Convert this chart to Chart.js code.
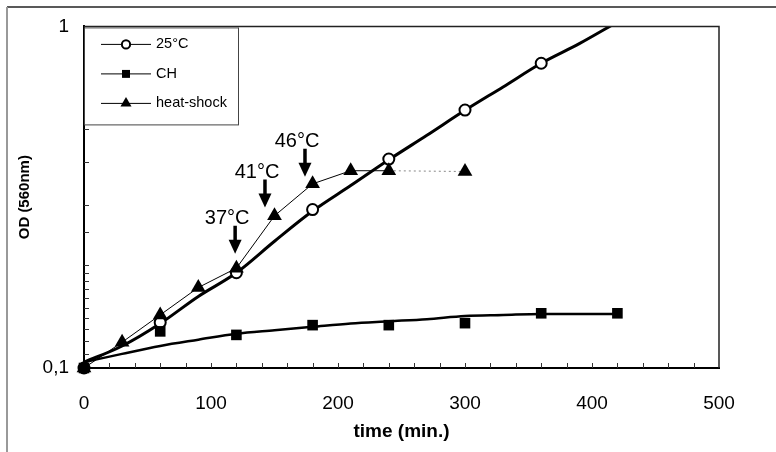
<!DOCTYPE html>
<html>
<head>
<meta charset="utf-8">
<script src="https://cdn.jsdelivr.net/npm/chart.js@4.4.1/dist/chart.umd.min.js"></script>
<style>
  html, body { margin: 0; background: #fff; }
  #wrap { width: 776px; height: 452px; }
</style>
</head>
<body>
<div id="wrap"><canvas id="chartOD" width="776" height="452"></canvas></div>
<script>
const FONT = '"Liberation Sans", Arial, sans-serif';
Chart.defaults.font.family = FONT;
Chart.defaults.color = '#111';

// measured points
const T_25  = [0, 60, 120, 180, 240, 300, 360];
const OD_25 = [0.1, 0.136, 0.19, 0.291, 0.409, 0.569, 0.78];
const T_CH  = [0, 60, 120, 180, 240, 300, 360, 420];
const OD_CH = [0.1, 0.128, 0.125, 0.1335, 0.1335, 0.1353, 0.1446, 0.1446];
const T_HS  = [0, 30, 60, 90, 120, 150, 180, 210, 240, 300];
const OD_HS = [0.1, 0.119, 0.143, 0.172, 0.196, 0.279, 0.346, 0.378, 0.378, 0.376];

// the thick smoothed curves
const T_FIT  = [0, 30, 60, 90, 120, 150, 180, 210, 240, 270, 300, 330, 360, 390, 420];
const FIT_25 = [0.104, 0.116, 0.135, 0.162, 0.19, 0.235, 0.288, 0.342, 0.407, 0.48, 0.568, 0.665, 0.78, 0.89, 1.03];
const FIT_CH = [0.104, 0.110, 0.116, 0.121, 0.126, 0.129, 0.132, 0.135, 0.137, 0.139, 0.142, 0.143, 0.144, 0.144, 0.144];

// temperature shift arrows
const ARROW_TEXT = ['37°C', '41°C', '46°C'];
const ARROW_T    = [119, 142.5, 174];
const ARROW_OD   = [0.216, 0.295, 0.363];

const X_LABELS = [0, 100, 200, 300, 400, 500];

const pts = (xs, ys) => xs.map((x, i) => ({ x, y: ys[i] }));

const markers = [
    { label: '25°C', style: 'circle', r: 5.5, fill: '#fff' },
    { label: 'CH', style: 'rect', r: 7.5, fill: '#000' },
    { label: 'heat-shock', style: 'triangle', r: 8.5, fill: '#000' },
];

function drawMark(ctx, m, x, y, scale) {
    const r = m.r * scale;
    ctx.save();
    ctx.fillStyle = m.fill;
    ctx.strokeStyle = '#000';
    ctx.lineWidth = 2;
    ctx.beginPath();
    if (m.style === 'circle') {
        ctx.arc(x, y, r, 0, Math.PI * 2);
        ctx.fill(); ctx.stroke();
    } else if (m.style === 'rect') {
        const s = r * Math.SQRT1_2;
        ctx.rect(x - s, y - s, 2 * s, 2 * s);
        ctx.fill();
    } else {
        ctx.moveTo(x, y - r);
        ctx.lineTo(x + r * 0.866, y + r * 0.5);
        ctx.lineTo(x - r * 0.866, y + r * 0.5);
        ctx.closePath();
        ctx.fill();
    }
    ctx.restore();
}

const decor = {
    id: 'decor',
    beforeDraw(chart) {
        const { ctx, width, height } = chart;
        ctx.save();
        ctx.fillStyle = '#fff';
        ctx.fillRect(0, 0, width, height);
        // outer frame (top + left only)
        ctx.strokeStyle = '#222';
        ctx.lineWidth = 1.5;
        ctx.beginPath(); ctx.moveTo(7, 7); ctx.lineTo(width, 7); ctx.stroke();
        ctx.strokeStyle = '#999';
        ctx.lineWidth = 2;
        ctx.beginPath(); ctx.moveTo(7, 7); ctx.lineTo(7, height); ctx.stroke();
        ctx.restore();
    },
    afterDraw(chart) {
        const { ctx, chartArea: a, scales: { x, y } } = chart;
        ctx.save();
        // plot frame top/right
        ctx.strokeStyle = '#222';
        ctx.lineWidth = 1.5;
        ctx.beginPath();
        ctx.moveTo(a.left, a.top); ctx.lineTo(a.right, a.top); ctx.lineTo(a.right, a.bottom);
        ctx.stroke();

        // inward tick marks
        ctx.strokeStyle = '#333';
        ctx.lineWidth = 1;
        x.ticks.forEach(t => {
            if (t.value <= 0 || t.value >= 500) return;
            const px = Math.round(x.getPixelForValue(t.value)) + 0.5;
            ctx.beginPath(); ctx.moveTo(px, a.bottom); ctx.lineTo(px, a.bottom - 5); ctx.stroke();
        });
        y.ticks.forEach(t => {
            if (t.value <= 0.1 || t.value >= 1) return;
            const py = Math.round(y.getPixelForValue(t.value)) + 0.5;
            ctx.beginPath(); ctx.moveTo(a.left, py); ctx.lineTo(a.left + 5, py); ctx.stroke();
        });

        // legend box
        const lx = a.left, ly = a.top + 1, lw = 154, lh = 97;
        ctx.fillStyle = '#fff';
        ctx.fillRect(lx + 1, ly, lw - 1, lh);
        ctx.strokeStyle = '#444';
        ctx.lineWidth = 1;
        ctx.strokeRect(lx + 0.5, ly + 0.5, lw, lh);
        ctx.font = '14.5px ' + FONT;
        ctx.textBaseline = 'middle';
        ctx.fillStyle = '#000';
        markers.forEach((m, i) => {
            const ry = ly + 17 + i * 29.5;
            ctx.strokeStyle = '#000';
            ctx.lineWidth = 1;
            ctx.beginPath(); ctx.moveTo(lx + 17, ry); ctx.lineTo(lx + 67, ry); ctx.stroke();
            drawMark(ctx, m, lx + 42, ry, m.style === 'circle' ? 0.75 : 0.75);
            ctx.fillStyle = '#000';
            ctx.fillText(m.label, lx + 72, ry);
        });

        // arrows + temperature labels
        ctx.font = '20px ' + FONT;
        ctx.textAlign = 'center';
        ctx.textBaseline = 'alphabetic';
        ARROW_TEXT.forEach((txt, i) => {
            const px = x.getPixelForValue(ARROW_T[i]);
            const tip = y.getPixelForValue(ARROW_OD[i]);
            const top = tip - 28;
            ctx.strokeStyle = '#000';
            ctx.lineWidth = 3.5;
            ctx.beginPath(); ctx.moveTo(px, top); ctx.lineTo(px, tip - 10); ctx.stroke();
            ctx.fillStyle = '#000';
            ctx.beginPath();
            ctx.moveTo(px - 6.5, tip - 14); ctx.lineTo(px + 6.5, tip - 14); ctx.lineTo(px, tip);
            ctx.closePath(); ctx.fill();
            ctx.fillText(txt, px - 8, top - 2);
        });
        ctx.restore();
    }
};

new Chart(document.getElementById('chartOD'), {
    type: 'scatter',
    data: {
        datasets: [
            {
                label: '25°C', data: pts(T_25, OD_25), order: 2,
                pointStyle: 'circle', pointRadius: 5.5, pointBorderWidth: 2,
                pointBackgroundColor: '#fff', pointBorderColor: '#000', clip: false,
            },
            {
                label: 'CH', data: pts(T_CH, OD_CH), order: 1,
                pointStyle: 'rect', pointRadius: 7.5, pointBorderWidth: 0,
                pointBackgroundColor: '#000', pointBorderColor: '#000', clip: false,
            },
            {
                label: 'heat-shock', data: pts(T_HS, OD_HS), order: 0,
                showLine: true, borderColor: '#000', borderWidth: 1,
                pointStyle: 'triangle', pointRadius: 8.5, pointBorderWidth: 0,
                pointBackgroundColor: '#000', pointBorderColor: '#000', clip: false,
                segment: {
                    borderColor: c => c.p0.parsed.x >= 240 ? '#888' : undefined,
                    borderDash: c => c.p0.parsed.x >= 240 ? [2, 3] : undefined,
                },
            },
            {
                label: '25°C fit', data: pts(T_FIT, FIT_25), order: 3,
                showLine: true, borderColor: '#000', borderWidth: 3,
                pointRadius: 0, cubicInterpolationMode: 'monotone', clip: 0,
            },
            {
                label: 'CH fit', data: pts(T_FIT, FIT_CH), order: 4,
                showLine: true, borderColor: '#000', borderWidth: 2.5,
                pointRadius: 0, cubicInterpolationMode: 'monotone', clip: 0,
            },
        ]
    },
    options: {
        responsive: false,
        animation: false,
        layout: { padding: { top: 25, right: 57, left: 0, bottom: 0 } },
        plugins: { legend: { display: false }, tooltip: { enabled: false } },
        scales: {
            x: {
                type: 'linear', min: 0, max: 500,
                afterFit: s => { s.height = 84; },
                grid: { drawOnChartArea: false, drawTicks: false },
                border: { display: true, width: 2, color: '#000' },
                ticks: {
                    stepSize: 20, autoSkip: false, maxRotation: 0, padding: 24,
                    color: '#000', font: { size: 19 },
                    callback: v => X_LABELS.includes(v) ? String(v) : '',
                },
                title: {
                    display: true, text: 'time (min.)', color: '#000',
                    font: { size: 19, weight: 'bold' }, padding: { bottom: 9, top: 0 },
                },
            },
            y: {
                type: 'logarithmic', min: 0.1, max: 1,
                afterFit: s => { s.width = 84; },
                grid: { drawOnChartArea: false, drawTicks: false },
                border: { display: true, width: 2, color: '#000' },
                ticks: {
                    autoSkip: false, padding: 15,
                    color: '#000', font: { size: 19 },
                    callback: v => v === 0.1 ? '0,1' : (v === 1 ? '1' : ''),
                },
                title: {
                    display: true, text: 'OD (560nm)', color: '#000',
                    font: { size: 15, weight: 'bold' }, padding: { top: 16, bottom: 0 },
                },
            },
        }
    },
    plugins: [decor]
});
</script>
</body>
</html>
